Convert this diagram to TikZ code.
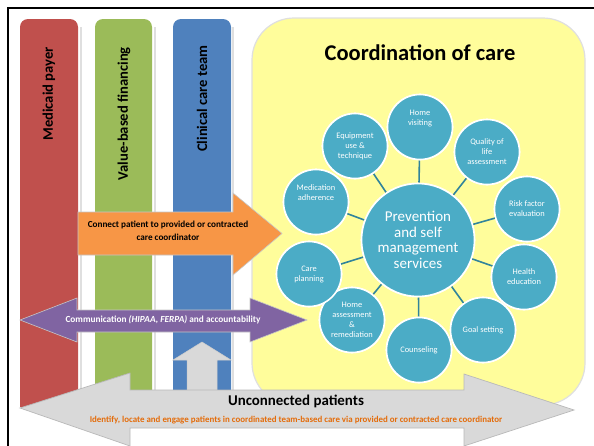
\documentclass[tikz,border=0pt]{standalone}
\usepackage{fontspec}
\setmainfont{Carlito}
\definecolor{cred}{HTML}{C0504D}
\definecolor{cgreen}{HTML}{9BBB59}
\definecolor{cblue}{HTML}{4F81BD}
\definecolor{cpurple}{HTML}{8064A2}
\definecolor{corange}{HTML}{F79646}
\definecolor{cteal}{HTML}{4BACC6}
\definecolor{cline}{HTML}{31849B}
\definecolor{cgray}{HTML}{D9D9D9}
\definecolor{cyellow}{HTML}{FFFD9B}
\definecolor{ctext}{HTML}{E46C0A}
\tikzset{
  column/.style={rounded corners=8pt},
  collabel/.style={rotate=90, anchor=east, font=\fontsize{14.6}{16}\selectfont\bfseries, inner sep=0pt},
  bubble/.style={circle, fill=cteal, draw=white, line width=1.6pt, minimum size=65pt, inner sep=0pt, align=center, text=white, font=\fontsize{8.4}{10}\selectfont},
  hub/.style={circle, fill=cteal, draw=white, line width=1.6pt, minimum size=113pt, inner sep=0pt, align=center, text=white, font=\fontsize{15}{15.5}\selectfont},
  spoke/.style={draw=cline, line width=1.6pt},
  arrowshape/.style={draw=gray!45, line width=0.6pt},
}
\begin{document}
\begin{tikzpicture}[x=1pt,y=-1pt]
\useasboundingbox (0,0) rectangle (594,445);
\clip (0,0) rectangle (594,445);
\fill[white] (0,0) rectangle (594,445);
% frame
\draw[line width=2.6pt] (8,460) -- (8,8) -- (610,8);
% columns with shadows
\fill[gray!25] (80,407) -- (80,27) -- (82,27) -- (82,407) -- cycle;
\fill[gray!25] (154,400) -- (154,27) -- (156,27) -- (156,400) -- cycle;
\fill[gray!25] (232,400) -- (232,27) -- (234,27) -- (234,400) -- cycle;
\fill[cred, column] (20,407) -- (20,19) -- (78,19) -- (78,407) [sharp corners] -- cycle;
\fill[cgreen, column] (95,400) -- (95,19) -- (152,19) -- (152,400) [sharp corners] -- cycle;
\fill[cblue, column] (173,400) -- (173,19) -- (231,19) -- (231,400) [sharp corners] -- cycle;
\node[collabel] (medicaid) at (49,47) {Medicaid payer};
\node[collabel] (value) at (124,47) {Value-based financing};
\node[collabel] (clinical) at (202,45) {Clinical care team};
% yellow box
\filldraw[fill=cyellow, draw=gray!25, line width=1.2pt, rounded corners=42pt] (252,18) rectangle (585,405);
\node[font=\fontsize{22.5}{24}\selectfont\bfseries] (title) at (420,53) {Coordination of care};
% bubbles
\node[hub] (hub) at (418,240) {Prevention\\and self\\management\\services};
\node[bubble] (b1) at (420,127) {Home\\visiting\\[8pt]};
\node[bubble] (b2) at (487,152) {Quality of\\life\\assessment};
\node[bubble] (b3) at (527,209) {Risk factor\\evaluation};
\node[bubble] (b4) at (524,277) {Health\\education};
\node[bubble] (b5) at (483,330) {Goal setting};
\node[bubble] (b6) at (419,350) {Counseling};
\node[bubble] (b7) at (352,320) {Home\\assessment\\\&\\remediation};
\node[bubble] (b8) at (309,274) {Care\\planning};
\node[bubble] (b9) at (316,202) {Medication\\adherence\\[8pt]};
\node[bubble] (b10) at (355,146) {Equipment\\use \&\\technique};
\foreach \b in {b1,b2,b3,b4,b5,b6,b7,b8,b9,b10}{
  \draw[spoke] (hub) -- (\b);
}
% redraw circles on top of spokes
\node[hub] at (418,240) {Prevention\\and self\\management\\services};
\node[bubble] at (420,127) {Home\\visiting\\[8pt]};
\node[bubble] at (487,152) {Quality of\\life\\assessment};
\node[bubble] at (527,209) {Risk factor\\evaluation};
\node[bubble] at (524,277) {Health\\education};
\node[bubble] at (483,330) {Goal setting};
\node[bubble] at (419,350) {Counseling};
\node[bubble] at (352,320) {Home\\assessment\\\&\\remediation};
\node[bubble] at (309,274) {Care\\planning};
\node[bubble] at (316,202) {Medication\\adherence\\[8pt]};
\node[bubble] at (355,146) {Equipment\\use \&\\technique};
% orange arrow
\filldraw[fill=corange, arrowshape] (78,212) -- (233,212) -- (233,193) -- (282,233.5) -- (233,275) -- (233,255) -- (78,255) -- cycle;
\node[font=\fontsize{9.2}{13}\selectfont\bfseries, align=center] (connect) at (168,231) {Connect patient to provided or contracted\\care coordinator};
% purple arrow
\filldraw[fill=cpurple, arrowshape] (20,320) -- (77,298) -- (77,310) -- (250,310) -- (250,298) -- (307,320) -- (250,342) -- (250,332) -- (77,332) -- (77,342) -- cycle;
\node[font=\fontsize{9.3}{10}\selectfont\bfseries, text=white] (comm) at (163,320) {Communication \textit{(HIPAA, FERPA)} and accountability};
% gray up arrow
\filldraw[fill=cgray, draw=gray!40, line width=0.5pt] (187,392) -- (187,360) -- (173,360) -- (202,342) -- (231,360) -- (217,360) -- (217,392) -- cycle;
% gray bottom arrow
\filldraw[fill=cgray, draw=gray!55, line width=0.7pt] (20,408) -- (130,373) -- (130,390) -- (464,390) -- (464,374) -- (574,410) -- (464,446) -- (464,428) -- (130,428) -- (130,446) -- cycle;
\node[font=\fontsize{14.9}{16}\selectfont\bfseries] (unconn) at (296,401) {Unconnected patients};
\node[font=\fontsize{8.9}{10}\selectfont\bfseries, text=ctext] (identify) at (296,420) {Identify, locate and engage patients in coordinated team-based care via provided or contracted care coordinator};
\end{tikzpicture}
\end{document}
